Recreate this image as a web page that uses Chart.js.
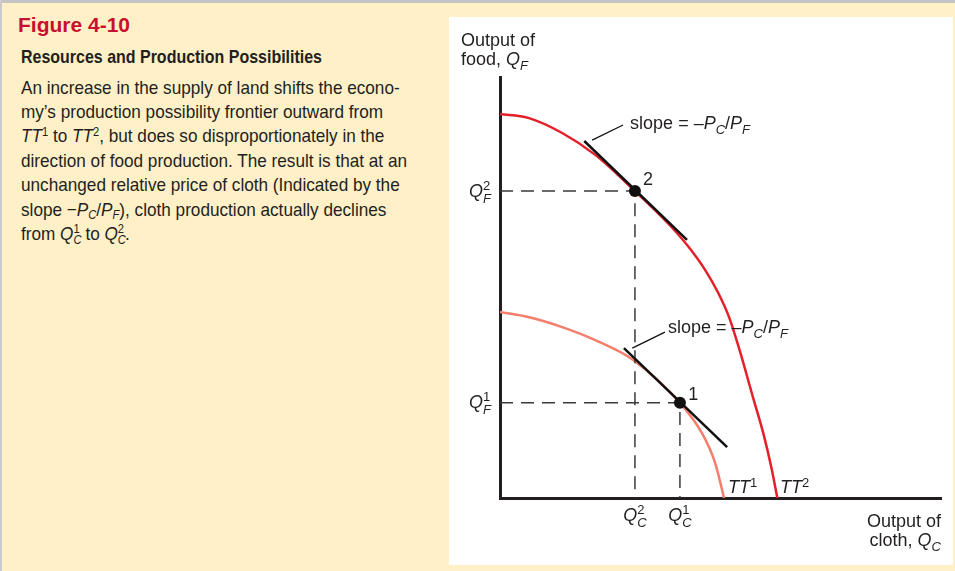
<!DOCTYPE html>
<html>
<head>
<meta charset="utf-8">
<script src="https://cdn.jsdelivr.net/npm/chart.js@4"></script>
<style>
html, body { margin: 0; padding: 0; }
body {
  width: 955px; height: 571px; position: relative; overflow: hidden;
  background: #fff0c8; color: #231f20;
  font-family: 'Liberation Sans', Arial, sans-serif;
}
.topline { position: absolute; left: 0; top: 0; width: 955px; height: 3px; background: #c4c4c4; }
.leftline { position: absolute; left: 0; top: 0; width: 2px; height: 571px; background: #cacaca; }
#panel { position: absolute; left: 449px; top: 17px; width: 504px; height: 548px; background: #fff; }
#fig { position: absolute; left: 18px; top: 13px; font: bold 20.5px/24px 'Liberation Sans', Arial, sans-serif; color: #c8102e; white-space: nowrap; transform-origin: 0 0; }
#head { position: absolute; left: 21px; top: 47px; font: bold 18.5px/20px 'Liberation Sans Narrow', 'Liberation Sans', Arial, sans-serif; white-space: nowrap; transform-origin: 0 0; }
#body { position: absolute; left: 21px; top: 75.5px; font: 18.5px/24.4px 'Liberation Sans Narrow', 'Liberation Sans', Arial, sans-serif; transform-origin: 0 0; }
#body .ln { white-space: nowrap; width: max-content; }
sup, sub { font-size: 0.65em; line-height: 0; position: relative; vertical-align: baseline; }
sup { top: -0.55em; }
sub { top: 0.3em; }
.ss { position: relative; display: inline-block; width: 0.42em; height: 0; }
.ss .a, .ss .b { position: absolute; left: 0; font-size: 0.65em; line-height: 1; }
.ss .a { bottom: 0.42em; }
.ss .b { bottom: -0.5em; font-style: italic; }
</style>
</head>
<body>
<div class="topline"></div>
<div class="leftline"></div>

<div id="fig">Figure 4-10</div>
<div id="head">Resources and Production Possibilities</div>
<div id="body">
  <div class="ln">An increase in the supply of land shifts the econo-</div>
  <div class="ln">my’s production possibility frontier outward from</div>
  <div class="ln"><i>TT</i><sup>1</sup> to <i>TT</i><sup>2</sup>, but does so disproportionately in the</div>
  <div class="ln">direction of food production. The result is that at an</div>
  <div class="ln">unchanged relative price of cloth (Indicated by the</div>
  <div class="ln">slope &minus;<i>P<sub>C</sub></i>/<i>P<sub>F</sub></i>), cloth production actually declines</div>
  <div class="ln">from <i>Q</i><span class="ss"><span class="a">1</span><span class="b">C</span></span> to <i>Q</i><span class="ss"><span class="a">2</span><span class="b">C</span></span>.</div>
</div>

<div id="panel"><canvas id="chart" width="504" height="548"></canvas></div>

<script>
// frontier TT2 (after the increase in land)
const tt2X = [0, 0.64, 1.41, 2.16, 3.06, 3.56, 3.93, 4.31, 4.65, 4.95, 5.20, 5.42, 5.74, 5.97, 6.15, 6.29];
const tt2Y = [9.12, 9.03, 8.67, 8.15, 7.29, 6.79, 6.39, 5.92, 5.42, 4.87, 4.28, 3.56, 2.38, 1.54, 0.74, 0];

// frontier TT1
const tt1X = [0, 0.64, 1.41, 2.16, 3.02, 4.08, 4.58, 4.88, 5.08];
const tt1Y = [4.42, 4.30, 4.06, 3.75, 3.28, 2.26, 1.54, 0.83, 0];

// equilibrium points 1 and 2
const eqNames = ['1', '2'];
const eqX = [4.08, 3.06];
const eqY = [2.26, 7.29];

// tangent price lines (x0, y0, x1, y1) for point 1 and point 2
const tangent1 = [2.81, 3.56, 5.15, 1.21];
const tangent2 = [1.91, 8.48, 4.24, 6.13];

// small leader lines from the tangents to the slope labels
const leader1 = [3.00, 3.56, 3.74, 3.94];
const leader2 = [2.09, 8.50, 2.79, 8.86];

// where the text labels sit (data units)
const slopeLabelX = [3.81, 2.95];
const slopeLabelY = [3.91, 8.76];
const pointLabelX = [4.27, 3.24];
const pointLabelY = [2.33, 7.43];
const curveNames = ['1', '2'];
const curveLabelX = [5.17, 6.35];
const curveLabelY = [0.12, 0.12];

const toPts = (xs, ys) => xs.map((v, i) => ({ x: v, y: ys[i] }));
const seg = a => [{ x: a[0], y: a[1] }, { x: a[2], y: a[3] }];
const ink = '#231f20';

const FONT = "'Liberation Sans', Arial, sans-serif";
function fontFor(p) { return (p.i ? 'italic ' : '') + (p.s || 18) + 'px ' + FONT; }
function partWidth(ctx, p) {
  if (p.stack) {
    ctx.font = fontFor({ i: true, s: 13 });
    return Math.max(ctx.measureText(p.stack[0]).width, ctx.measureText(p.stack[1]).width);
  }
  ctx.font = fontFor(p);
  return ctx.measureText(p.t).width;
}
function rich(ctx, x, y, parts, align) {
  const w = parts.reduce((a, p) => a + partWidth(ctx, p), 0);
  let cx = align === 'right' ? x - w : align === 'center' ? x - w / 2 : x;
  ctx.textAlign = 'left';
  ctx.textBaseline = 'alphabetic';
  parts.forEach(p => {
    const pw = partWidth(ctx, p);
    if (p.stack) {
      ctx.font = fontFor({ s: 13 });
      ctx.fillText(p.stack[0], cx, y - 7);
      ctx.font = fontFor({ i: true, s: 13 });
      ctx.fillText(p.stack[1], cx, y + 6);
    } else {
      ctx.font = fontFor(p);
      ctx.fillText(p.t, cx, y + (p.dy || 0));
    }
    cx += pw;
  });
}

const slopeText = [
  { t: 'slope = \u2013' }, { t: 'P', i: true }, { t: 'C', i: true, s: 13, dy: 5 },
  { t: '/' }, { t: 'P', i: true }, { t: 'F', i: true, s: 13, dy: 5 }
];

const labelPlugin = {
  id: 'labels',
  afterDatasetsDraw(chart) {
    const { ctx, chartArea: a, scales: { x, y } } = chart;
    ctx.save();
    ctx.fillStyle = ink;

    // axis titles
    rich(ctx, a.left - 39, a.top - 31, [{ t: 'Output of' }], 'left');
    rich(ctx, a.left - 39, a.top - 12, [{ t: 'food, ' }, { t: 'Q', i: true }, { t: 'F', i: true, s: 13, dy: 5 }], 'left');
    rich(ctx, a.right, a.bottom + 29, [{ t: 'Output of' }], 'right');
    rich(ctx, a.right, a.bottom + 48, [{ t: 'cloth, ' }, { t: 'Q', i: true }, { t: 'C', i: true, s: 13, dy: 5 }], 'right');

    // Q labels on both axes
    eqNames.forEach((n, i) => {
      rich(ctx, a.left - 9, y.getPixelForValue(eqY[i]) + 5.5, [{ t: 'Q', i: true }, { stack: [n, 'F'] }], 'right');
      rich(ctx, x.getPixelForValue(eqX[i]), a.bottom + 23, [{ t: 'Q', i: true }, { stack: [n, 'C'] }], 'center');
    });

    // point numbers and slope notes
    eqNames.forEach((n, i) => {
      rich(ctx, x.getPixelForValue(pointLabelX[i]), y.getPixelForValue(pointLabelY[i]), [{ t: n }], 'left');
      rich(ctx, x.getPixelForValue(slopeLabelX[i]), y.getPixelForValue(slopeLabelY[i]), slopeText, 'left');
    });

    // curve names
    curveNames.forEach((n, i) => {
      rich(ctx, x.getPixelForValue(curveLabelX[i]), y.getPixelForValue(curveLabelY[i]),
        [{ t: 'TT', i: true }, { t: n, s: 13, dy: -6 }], 'left');
    });
    ctx.restore();
  }
};

const dashed = i => [{ x: 0, y: eqY[i] }, { x: eqX[i], y: eqY[i] }, { x: eqX[i], y: 0 }];

new Chart(document.getElementById('chart'), {
  type: 'scatter',
  data: {
    datasets: [
      { data: toPts(eqX, eqY), pointRadius: 6, pointBackgroundColor: '#111', pointBorderWidth: 0, showLine: false, order: 0 },
      { data: seg(tangent1), showLine: true, borderColor: '#111', borderWidth: 2.5, pointRadius: 0, order: 1 },
      { data: seg(tangent2), showLine: true, borderColor: '#111', borderWidth: 2.5, pointRadius: 0, order: 1 },
      { data: seg(leader1), showLine: true, borderColor: '#111', borderWidth: 1.3, pointRadius: 0, order: 1 },
      { data: seg(leader2), showLine: true, borderColor: '#111', borderWidth: 1.3, pointRadius: 0, order: 1 },
      { data: dashed(0), showLine: true, borderColor: '#3a3a3a', borderWidth: 1.5, borderDash: [13, 8], pointRadius: 0, order: 2 },
      { data: dashed(1), showLine: true, borderColor: '#3a3a3a', borderWidth: 1.5, borderDash: [13, 8], pointRadius: 0, order: 2 },
      { data: toPts(tt1X, tt1Y), showLine: true, borderColor: '#f47e6c', borderWidth: 2.5, pointRadius: 0, cubicInterpolationMode: 'monotone', order: 3 },
      { data: toPts(tt2X, tt2Y), showLine: true, borderColor: '#e3202a', borderWidth: 2.5, pointRadius: 0, cubicInterpolationMode: 'monotone', order: 3 }
    ]
  },
  options: {
    responsive: false,
    animation: false,
    devicePixelRatio: 1,
    layout: { padding: { left: 51, right: 12, top: 60, bottom: 67 }, autoPadding: false },
    plugins: { legend: { display: false }, tooltip: { enabled: false } },
    scales: {
      x: {
        type: 'linear', min: 0, max: 10,
        grid: { display: false, drawTicks: false },
        ticks: { display: false },
        border: { display: true, color: ink, width: 3 }
      },
      y: {
        type: 'linear', min: 0, max: 10,
        grid: { display: false, drawTicks: false },
        ticks: { display: false },
        border: { display: true, color: ink, width: 3 }
      }
    }
  },
  plugins: [labelPlugin]
});

// squeeze the caption text to the condensed width of the original
function fit(el, target) {
  const w = el.getBoundingClientRect().width;
  return w > 0 ? target / w : 1;
}
const figEl = document.getElementById('fig');
figEl.style.transform = 'scaleX(' + fit(figEl, 112) + ')';
const headEl = document.getElementById('head');
headEl.style.transform = 'scaleX(' + fit(headEl, 301) + ')';
const bodyEl = document.getElementById('body');
const lines = bodyEl.querySelectorAll('.ln');
bodyEl.style.transform = 'scaleX(' + fit(lines[3], 386) + ')';
</script>
</body>
</html>
